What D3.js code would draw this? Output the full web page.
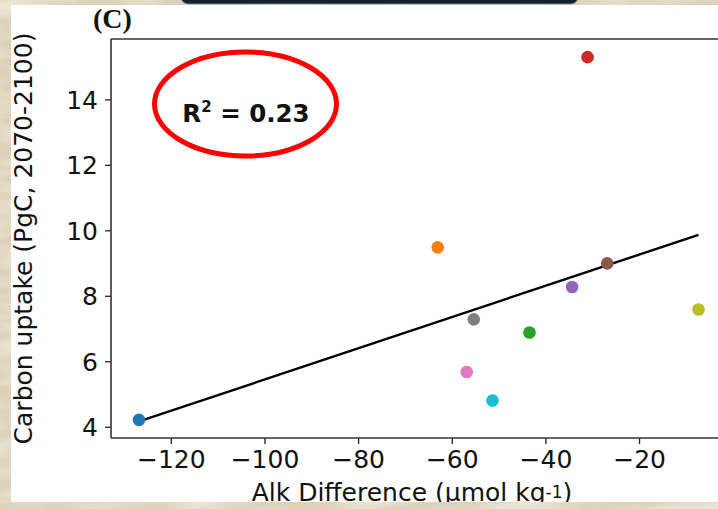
<!DOCTYPE html>
<html>
<head>
<meta charset="utf-8">
<script src="https://cdn.jsdelivr.net/npm/d3@7/dist/d3.min.js"></script>
<style>
  html, body { margin: 0; padding: 0; background: #e3d9c3; }
  svg { display: block; }
</style>
</head>
<body>
<div id="chart"></div>
<script>
// ---- Data ----
const models = ["M1", "M2", "M3", "M4", "M5", "M6", "M7", "M8", "M9", "M10"];
const alkDiff = [-126.8, -63.0, -43.4, -31.0, -34.3, -26.8, -56.8, -55.3, -7.3, -51.3];
const carbonUptake = [4.21, 9.48, 6.88, 15.29, 8.27, 8.99, 5.67, 7.28, 7.58, 4.80];
const pointColors = ["#1f77b4", "#ff7f0e", "#2ca02c", "#d62728", "#9467bd",
                     "#8c564b", "#e377c2", "#7f7f7f", "#bcbd22", "#17becf"];
const xTicks = [-120, -100, -80, -60, -40, -20];
const yTicks = [4, 6, 8, 10, 12, 14];
const panelLabel = "(C)";
const r2Label = "0.23";

const W = 718, H = 509;
const plot = { left: 111, right: 726.5, top: 39, bottom: 438 };
const FONT = "'DejaVu Sans', sans-serif";

const svg = d3.select("#chart").append("svg")
  .attr("width", W).attr("height", H);

// ---- Textured beige background ----
const defs = svg.append("defs");
const f = defs.append("filter").attr("id", "marble")
  .attr("x", 0).attr("y", 0).attr("width", "100%").attr("height", "100%");
f.append("feTurbulence").attr("type", "fractalNoise")
  .attr("baseFrequency", "0.012 0.05").attr("numOctaves", 3).attr("seed", 4).attr("result", "n");
f.append("feColorMatrix").attr("in", "n").attr("type", "matrix")
  .attr("values", "0 0 0 0 1  0 0 0 0 1  0 0 0 0 0.95  1.4 0 0 0 -0.55").attr("result", "c");
f.append("feComposite").attr("in", "c").attr("in2", "SourceGraphic").attr("operator", "over");

svg.append("rect").attr("width", W).attr("height", H).attr("fill", "#ddd2b9");
svg.append("rect").attr("width", W).attr("height", H).attr("fill", "#ddd2b9")
  .attr("filter", "url(#marble)").attr("opacity", 0.8);

// dark header box peeking at the top
svg.append("rect").attr("x", 181).attr("y", -12).attr("width", 397).attr("height", 16)
  .attr("rx", 7).attr("fill", "#12222e").attr("stroke", "#8a94a0").attr("stroke-width", 0.8);

// white figure panel
svg.append("rect").attr("x", 11).attr("y", 5).attr("width", W - 11).attr("height", 497)
  .attr("fill", "#ffffff");

// ---- Scales ----
const xExt = d3.extent(alkDiff), yExt = d3.extent(carbonUptake);
const xPad = (xExt[1] - xExt[0]) * 0.05, yPad = (yExt[1] - yExt[0]) * 0.05;
const x = d3.scaleLinear().domain([xExt[0] - xPad, xExt[1] + xPad]).range([plot.left, plot.right]);
const y = d3.scaleLinear().domain([yExt[0] - yPad, yExt[1] + yPad]).range([plot.bottom, plot.top]);

const fmt = v => (v < 0 ? "\u2212" + Math.abs(v) : String(v));

// ---- Axes ----
const xAxis = svg.append("g").attr("transform", `translate(0,${plot.bottom})`)
  .call(d3.axisBottom(x).tickValues(xTicks).tickFormat(fmt).tickSize(6).tickPadding(6).tickSizeOuter(0));
const yAxis = svg.append("g").attr("transform", `translate(${plot.left},0)`)
  .call(d3.axisLeft(y).tickValues(yTicks).tickFormat(fmt).tickSize(6).tickPadding(7).tickSizeOuter(0));
[xAxis, yAxis].forEach(g => {
  g.select(".domain").remove();
  g.selectAll(".tick line").attr("stroke", "#222").attr("stroke-width", 1.3);
  g.selectAll(".tick text").attr("fill", "#111").style("font-family", FONT).style("font-size", "25px");
});
xAxis.selectAll(".tick text").attr("dy", "0.72em");
yAxis.selectAll(".tick text").attr("dy", "0.36em");

// ---- Regression line (least squares from the data) ----
const mx = d3.mean(alkDiff), my = d3.mean(carbonUptake);
let sxy = 0, sxx = 0;
alkDiff.forEach((v, i) => { sxy += (v - mx) * (carbonUptake[i] - my); sxx += (v - mx) ** 2; });
const slope = sxy / sxx, intercept = my - slope * mx;
svg.append("line")
  .attr("x1", x(xExt[0])).attr("y1", y(intercept + slope * xExt[0]))
  .attr("x2", x(xExt[1])).attr("y2", y(intercept + slope * xExt[1]))
  .attr("stroke", "#000").attr("stroke-width", 2.4);

// ---- Points ----
svg.append("g").selectAll("circle").data(models).join("circle")
  .attr("cx", (d, i) => x(alkDiff[i]))
  .attr("cy", (d, i) => y(carbonUptake[i]))
  .attr("r", 6.3)
  .attr("fill", (d, i) => pointColors[i]);

// ---- Spines ----
const sp = svg.append("g").attr("stroke", "#333").attr("stroke-width", 1.6);
sp.append("line").attr("x1", plot.left).attr("x2", plot.right).attr("y1", plot.top).attr("y2", plot.top);
sp.append("line").attr("x1", plot.left).attr("x2", plot.right).attr("y1", plot.bottom).attr("y2", plot.bottom);
sp.append("line").attr("x1", plot.left).attr("x2", plot.left).attr("y1", plot.top).attr("y2", plot.bottom);
sp.append("line").attr("x1", plot.right).attr("x2", plot.right).attr("y1", plot.top).attr("y2", plot.bottom);

// ---- Axis labels ----
svg.append("text")
  .attr("transform", `translate(32,${(plot.top + plot.bottom) / 2}) rotate(-90)`)
  .attr("text-anchor", "middle").attr("fill", "#111")
  .style("font-family", FONT).style("font-size", "25px")
  .text("Carbon uptake (PgC, 2070-2100)");

const xl = svg.append("text")
  .attr("x", 412).attr("y", 500.5)
  .attr("text-anchor", "middle").attr("fill", "#111")
  .style("font-family", FONT).style("font-size", "25px");
xl.append("tspan").text("Alk Difference (\u03bcmol kg");
xl.append("tspan").attr("dy", -3).style("font-size", "17px").text("-1");
xl.append("tspan").attr("dy", 3).text(")");

// ---- Panel label ----
svg.append("text").attr("x", 93).attr("y", 28)
  .attr("fill", "#111")
  .style("font-family", "'Liberation Serif', 'Times New Roman', serif")
  .style("font-weight", "bold").style("font-size", "28px")
  .text(panelLabel);

// ---- R² annotation with red ellipse ----
svg.append("ellipse").attr("cx", 245.5).attr("cy", 104).attr("rx", 91).attr("ry", 52)
  .attr("fill", "none").attr("stroke", "#ff0000").attr("stroke-width", 5);
const rt = svg.append("text").attr("x", 246).attr("y", 122)
  .attr("text-anchor", "middle").attr("fill", "#111")
  .style("font-family", FONT).style("font-weight", "bold").style("font-size", "24.5px");
rt.append("tspan").text("R");
rt.append("tspan").attr("dy", -10).style("font-size", "15px").text("2");
rt.append("tspan").attr("dy", 10).text(" = " + r2Label);

// bottom beige strip that clips the x-axis title like in the reference
svg.append("rect").attr("x", 0).attr("y", 502).attr("width", W).attr("height", H - 502)
  .attr("fill", "#ddd2b9");
svg.append("rect").attr("x", 0).attr("y", 502).attr("width", W).attr("height", H - 502)
  .attr("fill", "#ddd2b9").attr("filter", "url(#marble)").attr("opacity", 0.8);
</script>
</body>
</html>
